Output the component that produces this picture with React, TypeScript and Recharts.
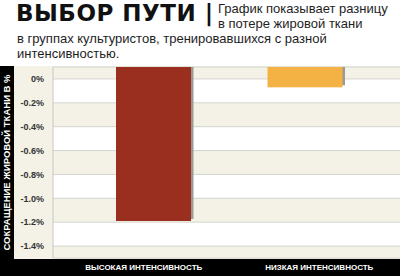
import React from 'react';
import { BarChart, Bar, XAxis, YAxis, CartesianGrid } from 'recharts';

const categories = ['ВЫСОКАЯ ИНТЕНСИВНОСТЬ', 'НИЗКАЯ ИНТЕНСИВНОСТЬ'];
const fatLoss = [-1.19, -0.07];
const barTop = 0.1;
const yTicks = [0, -0.2, -0.4, -0.6, -0.8, -1.0, -1.2, -1.4];
const yTickLabels = ['0%', '-0.2%', '-0.4%', '-0.6%', '-0.8%', '-1.0%', '-1.2%', '-1.4%'];
const barColors = ['#9a2f1f', '#f4b244'];

const data = categories.map((c, i) => ({ name: c, range: [barTop, fatLoss[i]], color: barColors[i] }));

const BarShape = (props: any) => {
  const { x, y, width, height, payload } = props;
  const top = Math.min(y, y + height);
  const h = Math.abs(height);
  return (
    <g>
      <rect x={x + 2.5} y={top} width={width} height={h - 2} fill="#9b9b94" />
      <rect x={x} y={top} width={width} height={h} fill={payload.color} />
    </g>
  );
};

const tickOffsets = [-10, 14];
const XTick = (props: any) => {
  const { x, y, payload, index } = props;
  return (
    <text
      x={x + tickOffsets[index]}
      y={y + 1}
      textAnchor="middle"
      dominantBaseline="central"
      fill="#ffffff"
      fontSize={8}
      fontWeight={700}
      fontFamily="'Liberation Sans', Arial, sans-serif"
    >
      {payload.value}
    </text>
  );
};

const smallText: React.CSSProperties = {
  position: 'absolute',
  fontFamily: "'Liberation Sans', Arial, sans-serif",
  fontSize: 13,
  lineHeight: '15px',
  color: '#1e1e1e',
  whiteSpace: 'nowrap',
};

export default function App() {
  return (
    <div style={{ position: 'absolute', left: 0, top: 0, width: 400, height: 276, background: '#ffffff', overflow: 'hidden' }}>
      <div style={{ position: 'absolute', left: 16, top: 0, fontFamily: "'DejaVu Sans', sans-serif", fontWeight: 700, fontSize: 23, lineHeight: '26px', color: '#111', letterSpacing: 0.5, whiteSpace: 'nowrap' }}>
        ВЫБОР ПУТИ |
      </div>
      <div style={{ ...smallText, left: 218, top: 1 }}>
        График показывает разницу<br />в потере жировой ткани
      </div>
      <div style={{ ...smallText, left: 17, top: 31 }}>
        в группах культуристов, тренировавшихся с разной<br />интенсивностью.
      </div>
      <div style={{ position: 'absolute', left: 14, top: 66, width: 386, height: 194, background: '#f4f2e6' }} />
      <div style={{ position: 'absolute', left: 0, top: 66, width: 14, height: 210, background: '#000' }} />
      <div style={{ position: 'absolute', left: 0, top: 259, width: 400, height: 17, background: '#000' }} />
      <div style={{ position: 'absolute', left: 0, top: 66 }}>
        <BarChart width={400} height={210} data={data} margin={{ top: 1, right: 0, left: 0, bottom: 0 }} barSize={75}>
          <CartesianGrid vertical={false} stroke="#d4d4d0" horizontalFill={['#f4f2e6', '#ffffff']} />
          <XAxis
            dataKey="name"
            height={18}
            axisLine={false}
            tickLine={false}
            tick={<XTick />}
            padding={{ left: 25, right: 19 }}
            interval={0}
          />
          <YAxis
            width={53}
            domain={[-1.5, 0.1]}
            ticks={yTicks}
            interval={0}
            tickFormatter={(v: number) => yTickLabels[yTicks.indexOf(v)]}
            tick={{ fill: '#333', fontSize: 9, fontWeight: 700, fontFamily: "'Liberation Sans', Arial, sans-serif" }}
            tickLine={false}
            axisLine={{ stroke: '#c8c8c4' }}
            tickMargin={3}
            label={{
              value: 'СОКРАЩЕНИЕ ЖИРОВОЙ ТКАНИ В %',
              angle: -90,
              position: 'insideLeft',
              offset: 7,
              style: { textAnchor: 'middle', fill: '#fff', fontSize: 9.5, fontWeight: 700, fontFamily: "'Liberation Sans', Arial, sans-serif" },
            }}
          />
          <Bar dataKey="range" isAnimationActive={false} shape={<BarShape />} />
        </BarChart>
      </div>
    </div>
  );
}
